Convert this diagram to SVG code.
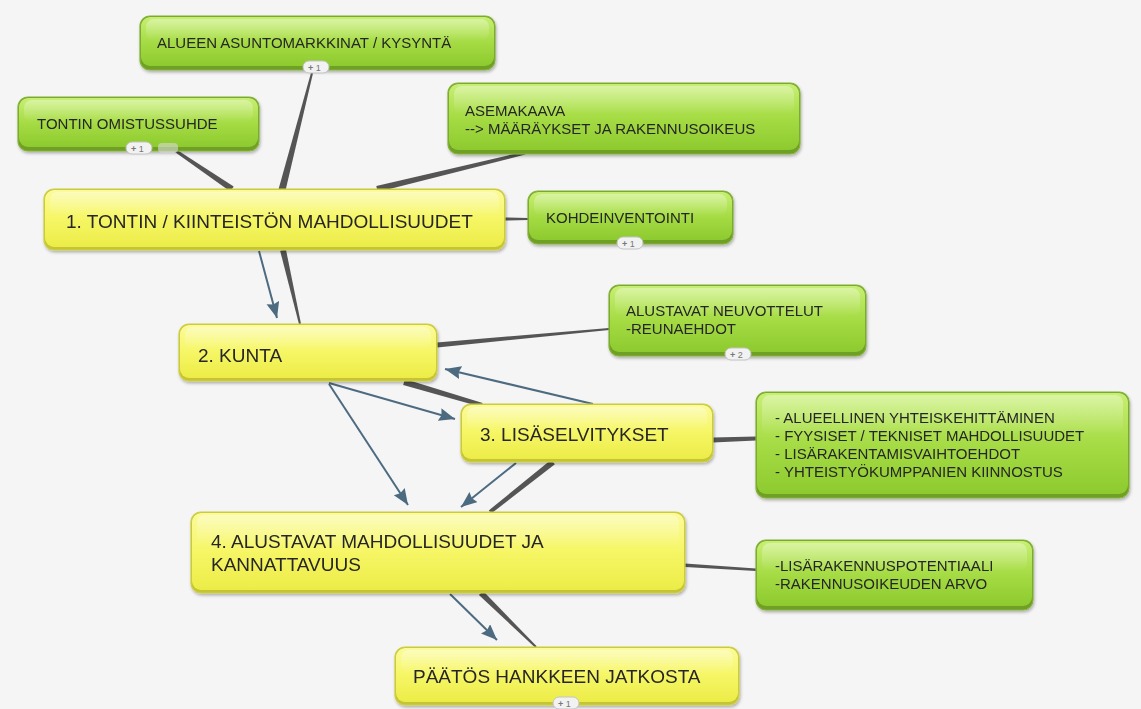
<svg xmlns="http://www.w3.org/2000/svg" width="1141" height="709" viewBox="0 0 1141 709">
<style>
  .t { font-family: "Liberation Sans", Arial, sans-serif; fill: #262626; }
  .g { font-size: 15px; }
  .y { font-size: 19px; }
  .base-g { fill: #6f9f27; }
  .base-y { fill: #c4c436; }
  .face-g { fill: url(#gg); }
  .face-y { fill: url(#gy); }
  .edge-g { fill: none; stroke: #84b338; stroke-width: 1.2; }
  .edge-y { fill: none; stroke: #cfcf46; stroke-width: 1.2; }
  .gloss { fill: url(#gl); }
  .conn { fill: #555555; }
  .arrow { fill: none; stroke: #4d6b80; stroke-width: 2; marker-end: url(#ah); }
  .badge rect { fill: #f2f2f2; stroke: #c4c4c4; stroke-width: 1; }
  .badge text { font-family: "Liberation Sans", Arial, sans-serif; font-size: 9px; fill: #777; }
</style>
<defs>
  <linearGradient id="gg" x1="0" y1="0" x2="0" y2="1">
    <stop offset="0" stop-color="#c8ef74"/>
    <stop offset="0.5" stop-color="#a6dc45"/>
    <stop offset="1" stop-color="#8dca2e"/>
  </linearGradient>
  <linearGradient id="gy" x1="0" y1="0" x2="0" y2="1">
    <stop offset="0" stop-color="#fbfb9c"/>
    <stop offset="0.5" stop-color="#f6f666"/>
    <stop offset="1" stop-color="#ecec48"/>
  </linearGradient>
  <linearGradient id="gl" x1="0" y1="0" x2="0" y2="1">
    <stop offset="0" stop-color="#ffffff" stop-opacity="0.35"/>
    <stop offset="1" stop-color="#ffffff" stop-opacity="0"/>
  </linearGradient>
  <filter id="sh" x="-10%" y="-20%" width="120%" height="150%">
    <feDropShadow dx="1" dy="2" stdDeviation="1.6" flood-color="#000" flood-opacity="0.28"/>
  </filter>
  <marker id="ah" markerUnits="userSpaceOnUse" markerWidth="18" markerHeight="14" refX="16" refY="6.5" orient="auto">
    <path d="M0,0 L16,6.5 L0,13 L2,6.5 Z" fill="#4d6b80"/>
  </marker>
</defs>

<rect x="0" y="0" width="1141" height="709" fill="#f5f5f5"/>

<g id="connectors">
  <polygon class="conn" points="233.7,186.5 176.8,149.8 175.2,152.2 230.3,191.5"/>
  <polygon class="conn" points="285.4,190.9 313.0,73.2 311.0,72.8 278.6,189.1"/>
  <polygon class="conn" points="377.7,191.9 525.4,154.5 524.6,151.5 376.3,186.1"/>
  <polygon class="conn" points="505,217.5 528,218 528,220 505,220.5"/>
  <polygon class="conn" points="280.1,250.7 299.0,324.2 301.0,323.8 285.9,249.3"/>
  <polygon class="conn" points="437.2,347.5 609.1,330.0 608.9,328.0 436.8,342.5"/>
  <polygon class="conn" points="403.2,384.9 481.4,406.9 482.6,403.1 404.8,379.1"/>
  <polygon class="conn" points="713,437.5 756,436.5 756,440.5 713,442.5"/>
  <polygon class="conn" points="551.1,459.7 488.8,510.4 491.2,513.6 554.9,464.3"/>
  <polygon class="conn" points="685,563.5 756,568.5 756,571 685,567"/>
  <polygon class="conn" points="478.9,595.1 535.3,647.7 536.7,646.3 483.1,590.9"/>

  <line class="arrow" x1="259" y1="251" x2="277" y2="318"/>
  <line class="arrow" x1="329" y1="383" x2="455" y2="419"/>
  <line class="arrow" x1="593" y1="404" x2="445" y2="369"/>
  <line class="arrow" x1="329" y1="384" x2="408" y2="505"/>
  <line class="arrow" x1="516" y1="463" x2="461" y2="507"/>
  <line class="arrow" x1="450" y1="594" x2="497" y2="640"/>
</g>

<g id="n-alueen" filter="url(#sh)">
  <rect class="base-g" x="140" y="16" width="355" height="54" rx="10"/>
  <rect class="face-g" x="141" y="17" width="353" height="49" rx="9"/>
  <rect class="gloss" x="146" y="19" width="343" height="22" rx="8"/>
  <rect class="edge-g" x="140" y="16" width="355" height="54" rx="10"/>
  <text class="t g" x="157" y="48">ALUEEN ASUNTOMARKKINAT / KYSYNTÄ</text>
</g>
<g class="badge" id="b-alueen"><rect x="303" y="61" width="26" height="12" rx="6"/><text x="308" y="70.5"><tspan font-weight="bold">+</tspan> 1</text></g>

<g id="n-tontin" filter="url(#sh)">
  <rect class="base-g" x="18" y="97" width="241" height="54" rx="10"/>
  <rect class="face-g" x="19" y="98" width="239" height="49" rx="9"/>
  <rect class="gloss" x="24" y="100" width="229" height="22" rx="8"/>
  <rect class="edge-g" x="18" y="97" width="241" height="54" rx="10"/>
  <text class="t g" x="37" y="129">TONTIN OMISTUSSUHDE</text>
</g>
<g class="badge" id="b-tontin"><rect x="126" y="142" width="26" height="12" rx="6"/><text x="131" y="151.5"><tspan font-weight="bold">+</tspan> 1</text></g>
<rect x="158" y="143" width="20" height="10" rx="4" fill="#d8d8d8" opacity="0.6"/>

<g id="n-asema" filter="url(#sh)">
  <rect class="base-g" x="448" y="83" width="352" height="71" rx="10"/>
  <rect class="face-g" x="449" y="84" width="350" height="66" rx="9"/>
  <rect class="gloss" x="454" y="86" width="340" height="28" rx="8"/>
  <rect class="edge-g" x="448" y="83" width="352" height="71" rx="10"/>
  <text class="t g" x="465" y="116">ASEMAKAAVA</text>
  <text class="t g" x="465" y="134">--&gt; MÄÄRÄYKSET JA RAKENNUSOIKEUS</text>
</g>

<g id="n1" filter="url(#sh)">
  <rect class="base-y" x="44" y="189" width="461" height="61" rx="10"/>
  <rect class="face-y" x="45" y="190" width="459" height="57" rx="9"/>
  <rect class="gloss" x="50" y="192" width="449" height="24" rx="8"/>
  <rect class="edge-y" x="44" y="189" width="461" height="61" rx="10"/>
  <text class="t y" x="66" y="228">1. TONTIN / KIINTEISTÖN MAHDOLLISUUDET</text>
</g>

<g id="n-kohde" filter="url(#sh)">
  <rect class="base-g" x="528" y="191" width="205" height="53" rx="10"/>
  <rect class="face-g" x="529" y="192" width="203" height="48" rx="9"/>
  <rect class="gloss" x="534" y="194" width="193" height="22" rx="8"/>
  <rect class="edge-g" x="528" y="191" width="205" height="53" rx="10"/>
  <text class="t g" x="546" y="223">KOHDEINVENTOINTI</text>
</g>
<g class="badge" id="b-kohde"><rect x="617" y="237" width="26" height="12" rx="6"/><text x="622" y="246.5"><tspan font-weight="bold">+</tspan> 1</text></g>

<g id="n-alustavat" filter="url(#sh)">
  <rect class="base-g" x="609" y="285" width="257" height="71" rx="10"/>
  <rect class="face-g" x="610" y="286" width="255" height="66" rx="9"/>
  <rect class="gloss" x="615" y="288" width="245" height="28" rx="8"/>
  <rect class="edge-g" x="609" y="285" width="257" height="71" rx="10"/>
  <text class="t g" x="626" y="316">ALUSTAVAT NEUVOTTELUT</text>
  <text class="t g" x="626" y="334">-REUNAEHDOT</text>
</g>
<g class="badge" id="b-alustavat"><rect x="725" y="348" width="26" height="12" rx="6"/><text x="730" y="357.5"><tspan font-weight="bold">+</tspan> 2</text></g>

<g id="n2" filter="url(#sh)">
  <rect class="base-y" x="179" y="324" width="258" height="57" rx="10"/>
  <rect class="face-y" x="180" y="325" width="256" height="53" rx="9"/>
  <rect class="gloss" x="185" y="327" width="246" height="23" rx="8"/>
  <rect class="edge-y" x="179" y="324" width="258" height="57" rx="10"/>
  <text class="t y" x="198" y="362">2. KUNTA</text>
</g>

<g id="n3" filter="url(#sh)">
  <rect class="base-y" x="461" y="404" width="252" height="58" rx="10"/>
  <rect class="face-y" x="462" y="405" width="250" height="54" rx="9"/>
  <rect class="gloss" x="467" y="407" width="240" height="23" rx="8"/>
  <rect class="edge-y" x="461" y="404" width="252" height="58" rx="10"/>
  <text class="t y" x="480" y="441">3. LISÄSELVITYKSET</text>
</g>

<g id="n-bullets" filter="url(#sh)">
  <rect class="base-g" x="756" y="392" width="373" height="106" rx="10"/>
  <rect class="face-g" x="757" y="393" width="371" height="101" rx="9"/>
  <rect class="gloss" x="762" y="395" width="361" height="40" rx="8"/>
  <rect class="edge-g" x="756" y="392" width="373" height="106" rx="10"/>
  <text class="t g" x="775" y="423">- ALUEELLINEN YHTEISKEHITTÄMINEN</text>
  <text class="t g" x="775" y="441">- FYYSISET / TEKNISET MAHDOLLISUUDET</text>
  <text class="t g" x="775" y="459">- LISÄRAKENTAMISVAIHTOEHDOT</text>
  <text class="t g" x="775" y="477">- YHTEISTYÖKUMPPANIEN KIINNOSTUS</text>
</g>

<g id="n4" filter="url(#sh)">
  <rect class="base-y" x="191" y="512" width="494" height="81" rx="10"/>
  <rect class="face-y" x="192" y="513" width="492" height="77" rx="9"/>
  <rect class="gloss" x="197" y="515" width="482" height="32" rx="8"/>
  <rect class="edge-y" x="191" y="512" width="494" height="81" rx="10"/>
  <text class="t y" x="211" y="548">4. ALUSTAVAT MAHDOLLISUUDET JA</text>
  <text class="t y" x="211" y="571">KANNATTAVUUS</text>
</g>

<g id="n-lisa" filter="url(#sh)">
  <rect class="base-g" x="756" y="540" width="277" height="70" rx="10"/>
  <rect class="face-g" x="757" y="541" width="275" height="65" rx="9"/>
  <rect class="gloss" x="762" y="543" width="265" height="28" rx="8"/>
  <rect class="edge-g" x="756" y="540" width="277" height="70" rx="10"/>
  <text class="t g" x="775" y="571">-LISÄRAKENNUSPOTENTIAALI</text>
  <text class="t g" x="775" y="589">-RAKENNUSOIKEUDEN ARVO</text>
</g>

<g id="n5" filter="url(#sh)">
  <rect class="base-y" x="395" y="647" width="344" height="58" rx="10"/>
  <rect class="face-y" x="396" y="648" width="342" height="54" rx="9"/>
  <rect class="gloss" x="401" y="650" width="332" height="23" rx="8"/>
  <rect class="edge-y" x="395" y="647" width="344" height="58" rx="10"/>
  <text class="t y" x="413" y="683">PÄÄTÖS HANKKEEN JATKOSTA</text>
</g>
<g class="badge" id="b-n5"><rect x="553" y="697" width="26" height="12" rx="6"/><text x="558" y="706.5"><tspan font-weight="bold">+</tspan> 1</text></g>
</svg>
